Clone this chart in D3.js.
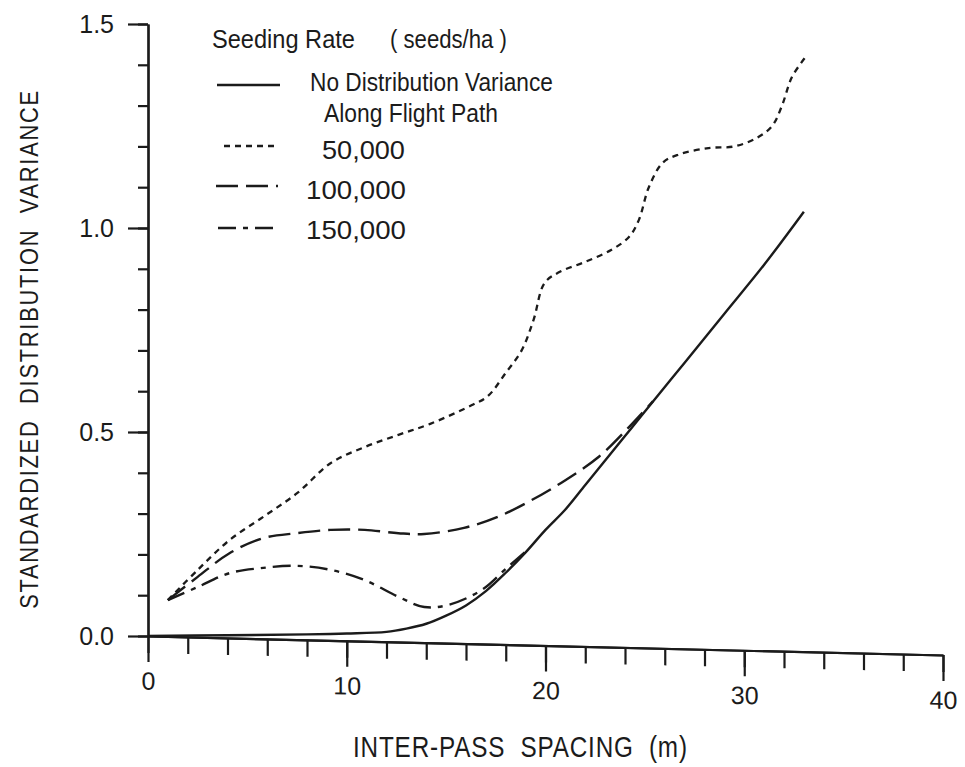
<!DOCTYPE html>
<html>
<head>
<meta charset="utf-8">
<script src="https://cdn.jsdelivr.net/npm/d3@7"></script>
<style>
  body { margin: 0; background: #fff; }
  svg { display: block; }
  text { fill: #1b1b1b; font-family: "Liberation Sans", "Helvetica", sans-serif; white-space: pre; }
</style>
</head>
<body>
<svg id="chart" width="965" height="767"></svg>
<script>

// values
var x_solid = [0, 4, 8, 10, 12, 13, 14, 15, 16, 17, 18, 19, 20, 21, 22, 23, 24, 25, 27, 29, 31, 33];
var y_solid = [0, 0.002, 0.004, 0.006, 0.01, 0.018, 0.03, 0.05, 0.075, 0.11, 0.155, 0.205, 0.26, 0.31, 0.37, 0.43, 0.49, 0.55, 0.67, 0.79, 0.91, 1.04];

var x_50 = [1, 2.5, 4.1, 5.8, 7.5, 9.2, 10.9, 12.6, 14.2, 16.3, 17.1, 18, 18.8, 19.4, 19.95, 20.7, 22, 23.3, 24.2, 24.7, 25.2, 25.9, 26.7, 28.2, 29.5, 30.6, 31.4, 31.9, 32.4, 33.1];
var y_50 = [0.088, 0.162, 0.235, 0.292, 0.35, 0.424, 0.463, 0.493, 0.52, 0.566, 0.588, 0.645, 0.70, 0.775, 0.865, 0.892, 0.917, 0.946, 0.978, 1.02, 1.10, 1.16, 1.18, 1.196, 1.20, 1.22, 1.25, 1.30, 1.37, 1.42];

var x_100 = [1, 2.5, 4.1, 5.8, 7.5, 9.2, 10.9, 12.6, 13.9, 15.9, 17.6, 19.3, 21, 22.7, 24.2, 25.4];
var y_100 = [0.088, 0.145, 0.203, 0.24, 0.252, 0.26, 0.26, 0.252, 0.25, 0.265, 0.292, 0.333, 0.382, 0.44, 0.512, 0.575];

var x_150 = [1, 2.5, 4.1, 5.8, 7.5, 9.2, 10.9, 12.6, 13.9, 15.1, 16.8, 18.1, 19.2];
var y_150 = [0.088, 0.12, 0.154, 0.167, 0.172, 0.162, 0.137, 0.096, 0.071, 0.076, 0.113, 0.169, 0.215];

var y_major = [0, 0.5, 1.0, 1.5];
var y_labels = ["0.0", "0.5", "1.0", "1.5"];
var x_major = [0, 10, 20, 30, 40];
var x_labels = ["0", "10", "20", "30", "40"];

var legend_names = ["No Distribution Variance", "50,000", "100,000", "150,000"];
var dashes = ["none", "6,5", "22,8", "18,7,5,7"];

var svg = d3.select("#chart");
var x = d3.scaleLinear().domain([0, 40]).range([148, 943]);
var y = d3.scaleLinear().domain([0, 1.5]).range([636, 24]);

// stretch/squeeze a text to the width it has in the figure
function fit(sel, w, extra){
    var len = sel.node().getComputedTextLength();
    var x0 = +sel.attr("x"), y0 = +sel.attr("y");
    sel.attr("x", 0).attr("y", 0)
       .attr("transform", "translate(" + x0 + "," + y0 + ")" + (extra || "") + " scale(" + (w / len) + ",1)");
}

// y axis, minor then major ticks
svg.append("g").attr("transform", "translate(148,0)")
    .call(d3.axisLeft(y).tickValues(d3.range(0, 1.51, 0.1)).tickSize(10).tickSizeOuter(0).tickFormat(""));
svg.append("g").attr("class", "yax").attr("transform", "translate(148,0)")
    .call(d3.axisLeft(y).tickValues(y_major).tickSize(20).tickPadding(14).tickSizeOuter(0)
        .tickFormat(function(d, i) { return y_labels[i]; }));

// x axis is a little tilted in the scan
var xg = svg.append("g").attr("transform", "translate(148,636) skewY(1.37) translate(-148,0)");
xg.append("g").call(d3.axisBottom(x).tickValues(d3.range(0, 41, 2)).tickSize(17).tickSizeOuter(0).tickFormat(""));
xg.append("g").attr("class", "xax")
    .call(d3.axisBottom(x).tickValues(x_major).tickSize(26).tickPadding(10).tickSizeOuter(0)
        .tickFormat(function(d, i) { return x_labels[i]; }));

svg.selectAll(".domain, .tick line").attr("stroke", "#1b1b1b").attr("stroke-width", 2.2);
svg.selectAll(".yax text, .xax text").style("font-size", "25px")
    .style("font-family", "'Liberation Sans', sans-serif").attr("fill", "#1b1b1b");

// curves
var line = d3.line()
    .x(function(d) { return x(d[0]); })
    .y(function(d) { return y(d[1]); })
    .curve(d3.curveCatmullRom.alpha(0.5));

function draw_curve(xs, ys, dash, w){
    var pts = xs.map(function(d, i) { return [xs[i], ys[i]]; });
    svg.append("path").datum(pts)
        .attr("d", line)
        .attr("fill", "none")
        .attr("stroke", "#1b1b1b")
        .attr("stroke-width", w)
        .attr("stroke-dasharray", dash);
}

draw_curve(x_solid, y_solid, dashes[0], 2.4);
draw_curve(x_50, y_50, dashes[1], 2.3);
draw_curve(x_100, y_100, dashes[2], 2.4);
draw_curve(x_150, y_150, dashes[3], 2.4);

// legend
var lg = svg.append("g");
fit(lg.append("text").attr("x", 212).attr("y", 48).style("font-size", "25px").text("Seeding Rate"), 143);
fit(lg.append("text").attr("x", 390).attr("y", 48).style("font-size", "25px").text("( seeds/ha )"), 117);

var leg_y = [85, 146, 186, 228];
var leg_x0 = [217, 224, 216, 218];
var leg_x1 = [280, 276, 278, 278];
leg_y.forEach(function(d, i) {
    lg.append("line")
        .attr("x1", leg_x0[i]).attr("x2", leg_x1[i])
        .attr("y1", leg_y[i]).attr("y2", leg_y[i])
        .attr("stroke", "#1b1b1b").attr("stroke-width", 2.4)
        .attr("stroke-dasharray", dashes[i]);
});

fit(lg.append("text").attr("x", 310).attr("y", 91).style("font-size", "26px").text(legend_names[0]), 243);
fit(lg.append("text").attr("x", 324).attr("y", 122).style("font-size", "26px").text("Along Flight Path"), 174);
fit(lg.append("text").attr("x", 322).attr("y", 159).style("font-size", "25px").text(legend_names[1]), 83);
fit(lg.append("text").attr("x", 306).attr("y", 199).style("font-size", "25px").text(legend_names[2]), 100);
fit(lg.append("text").attr("x", 306).attr("y", 239).style("font-size", "25px").text(legend_names[3]), 100);

// axis titles
var yt = svg.append("text").attr("x", 38).attr("y", 349)
    .attr("text-anchor", "middle")
    .style("font-size", "25px").style("letter-spacing", "2px")
    .text("STANDARDIZED  DISTRIBUTION  VARIANCE");
fit(yt, 520, " rotate(-90)");

fit(svg.append("text").attr("x", 353).attr("y", 757)
    .style("font-size", "29px").style("letter-spacing", "1px")
    .text("INTER-PASS  SPACING  (m)"), 335);

</script>
</body>
</html>
